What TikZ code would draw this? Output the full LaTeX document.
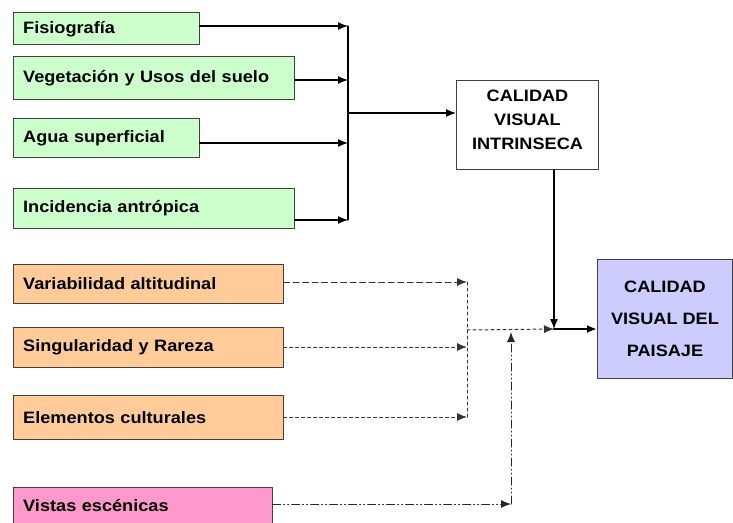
\documentclass[tikz,border=0pt]{standalone}
\usepackage{fontspec}
\setmainfont{Liberation Sans}[FakeStretch=1.1]
\usetikzlibrary{arrows.meta}
\definecolor{verde}{HTML}{CCFFCC}
\definecolor{naranja}{HTML}{FFCC99}
\definecolor{rosa}{HTML}{FF99CC}
\definecolor{lila}{HTML}{CCCCFF}
\begin{document}
\begin{tikzpicture}[x=1pt,y=-1pt,line cap=round,line join=round,
    >={Latex[length=10pt,width=8pt]},
    caja/.style={draw=black!75,line width=1pt,anchor=north west,inner sep=0pt,
      font=\fontsize{16.5}{19}\selectfont\bfseries,align=left},
    centro/.style={draw=black!75,line width=1pt,anchor=north west,inner sep=0pt,
      font=\fontsize{16.5}{19}\selectfont\bfseries,align=center},
    flecha/.style={->,line width=1.3pt},
    rayas/.style={->,line width=1pt,black!80,dash pattern=on 3pt off 3pt},
    rayalarga/.style={->,line width=1pt,black!80,dash pattern=on 6pt off 3.5pt},
    puntoraya/.style={->,line width=1pt,black!85,dash pattern=on 8pt off 3pt on 1pt off 3pt on 1pt off 3pt}]
\clip (0,0) rectangle (733,522);
\fill[white] (0,0) rectangle (733,522);
% factores de la calidad intrinseca
\node[caja,fill=verde,minimum width=186,minimum height=32,text width=166] (fis) at (12.7,12.3) {Fisiografía};
\node[caja,fill=verde,minimum width=281,minimum height=43,text width=261] (veg) at (12.7,55.7) {Vegetación y Usos del suelo};
\node[caja,fill=verde,minimum width=186,minimum height=39,text width=166] (agua) at (12.7,118) {Agua superficial};
\node[caja,fill=verde,minimum width=281,minimum height=40,text width=261] (inc) at (12.7,188) {Incidencia antrópica};
% factores extrinsecos
\node[caja,fill=naranja,minimum width=270,minimum height=39,text width=250] (var) at (12.7,264) {Variabilidad altitudinal};
\node[caja,fill=naranja,minimum width=270,minimum height=40,text width=250] (sing) at (12.7,327) {Singularidad y Rareza};
\node[caja,fill=naranja,minimum width=270,minimum height=44,text width=250] (elem) at (12.7,395) {Elementos culturales};
\node[caja,fill=rosa,minimum width=259,minimum height=36,text width=239] (vis) at (12.7,487) {Vistas escénicas};
% resultados
\node[centro,fill=white,minimum width=142,minimum height=89,text depth=10pt] (intr) at (456,80) {CALIDAD\\[5pt]VISUAL\\[5pt]INTRINSECA};
\node[centro,fill=lila,minimum width=135,minimum height=119] (pais) at (597,259) {CALIDAD\\[13pt]VISUAL DEL\\[13pt]PAISAJE};
% puntos de union
\coordinate (b1) at (348,26);
\coordinate (b2) at (348,80);
\coordinate (b3) at (348,143);
\coordinate (b4) at (348,220);
\coordinate (bm) at (348,113);
\coordinate (d1) at (467,282);
\coordinate (d2) at (467,347);
\coordinate (d3) at (467,417);
\coordinate (dm) at (467,330);
\coordinate (j) at (554,329);
\coordinate (v1) at (511,504);
\coordinate (v2) at (511,332);
% conexiones
\draw[flecha] (fis.east |- b1) -- (b1);
\draw[flecha] (veg.east |- b2) -- (b2);
\draw[flecha] (agua.east |- b3) -- (b3);
\draw[flecha] (inc.east |- b4) -- (b4);
\draw[line width=1.3pt] (b1) -- (b4);
\draw[flecha] (bm) -- (intr.west |- bm);
\draw[rayalarga] (var.east |- d1) -- (d1);
\draw[rayas] (sing.east |- d2) -- (d2);
\draw[rayas] (elem.east |- d3) -- (d3);
\draw[line width=1pt,black!80,dash pattern=on 3pt off 3pt] (d1) -- (d3);
\draw[rayas] (dm) -- (j);
\draw[puntoraya] (vis.east |- v1) -- (v1);
\draw[puntoraya] (v1) -- (v2);
\draw[flecha] (intr.south -| j) -- (j);
\draw[->,line width=2.6pt] (j) -- (pais.west |- j);
\end{tikzpicture}
\end{document}
